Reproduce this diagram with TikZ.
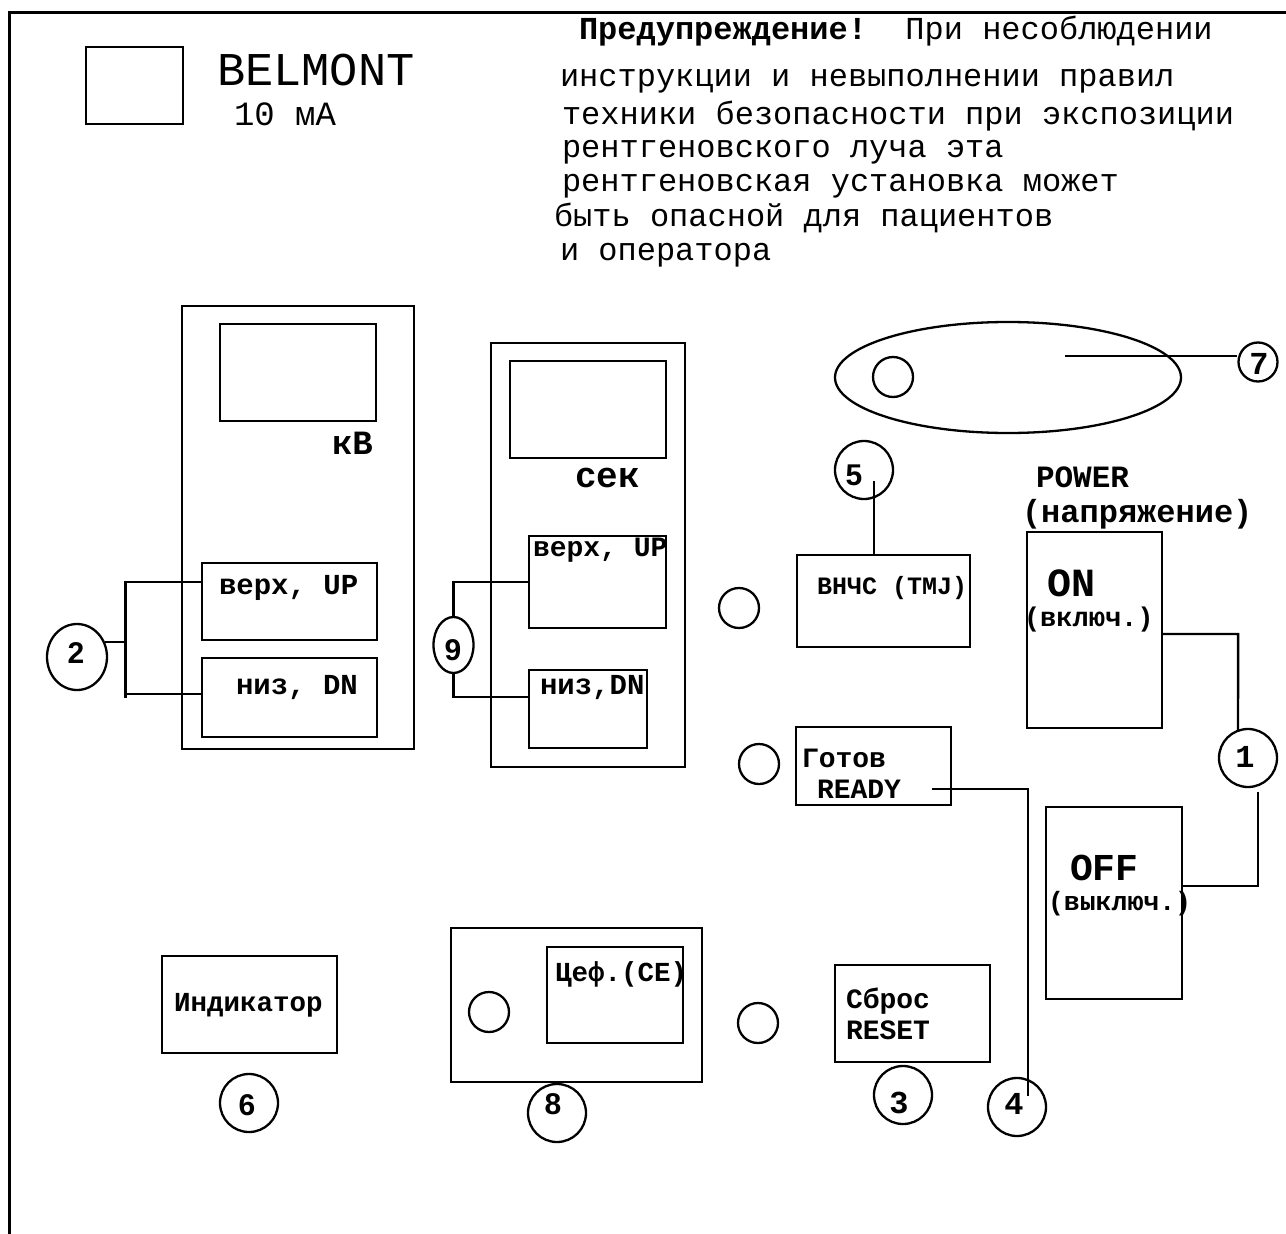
\documentclass[tikz,border=0pt]{standalone}
\usepackage{fontspec}
\setmainfont{Liberation Mono}
\newfontfamily\digitsans{Liberation Sans}
\usetikzlibrary{shapes.geometric,calc}
\newcommand\fsz[1]{\fontsize{#1}{#1}\selectfont}
\tikzset{
  boxn/.style={draw, line width=2.8pt, rectangle, inner sep=0pt, outer sep=0pt},
  knob/.style={draw, line width=2.3pt, circle, minimum size=40pt, inner sep=0pt, outer sep=0pt},
  numc/.style={draw, line width=2.3pt, circle, minimum size=58pt, inner sep=0pt, outer sep=0pt},
  numt/.style={inner sep=0pt, font=\digitsans\bfseries\fsz{30}},
  numtm/.style={inner sep=0pt, font=\bfseries\fsz{32}},
  txt/.style={inner sep=0pt, outer sep=0pt, anchor=base west},
  conn/.style={line width=2.3pt},
}
\begin{document}
\begin{tikzpicture}[x=1pt,y=-1pt]
\useasboundingbox (0,0) rectangle (1286,1234);
% outer frame (top and left edges)
\coordinate (ftl) at (9,12);
\coordinate (ftr) at (1286,12);
\coordinate (fbl) at (9,1234);
\draw[line width=3pt] (ftr) -- (ftl) -- (fbl);

% logo and title
\node[boxn, minimum width=97pt, minimum height=77pt] (logo) at (134.5,85.5) {};
\node[txt, font=\fsz{47}] (belmont) at (217,85) {BELMONT};
\node[txt, font=\fsz{34}] (ma) at (234,125) {10 мА};

% warning text
\node[txt, font=\fsz{32}] (w0) at (579,39) {\textbf{Предупреждение!}\ \ При несоблюдении};
\node[txt, font=\fsz{32}] (w1) at (560,86) {инструкции и невыполнении правил};
\node[txt, font=\fsz{32}] (w2) at (562,124) {техники безопасности при экспозиции};
\node[txt, font=\fsz{32}] (w3) at (562,157) {рентгеновского луча эта};
\node[txt, font=\fsz{32}] (w4) at (562,191) {рентгеновская установка может};
\node[txt, font=\fsz{32}] (w5) at (554,226) {быть опасной для пациентов};
\node[txt, font=\fsz{32}] (w6) at (560,260) {и оператора};

% kV panel
\node[boxn, minimum width=232pt, minimum height=443pt] (kvpanel) at (298,527.5) {};
\node[boxn, minimum width=156pt, minimum height=97pt] (kvdisp) at (298,372.5) {};
\node[txt, font=\bfseries\fsz{34}] (kvlab) at (332,454) {кВ};
\node[boxn, minimum width=175pt, minimum height=77pt] (kvup) at (289.5,601.5) {};
\node[txt, font=\bfseries\fsz{29}] (kvupt) at (219,594) {верх, UP};
\node[boxn, minimum width=175pt, minimum height=79pt] (kvdn) at (289.5,697.5) {};
\node[txt, font=\bfseries\fsz{29}] (kvdnt) at (236,694) {низ, DN};

% callout 2
\node[draw, line width=2.3pt, ellipse, minimum width=60pt, minimum height=66pt, inner sep=0pt] (c2) at (77,657) {};
\node[numt] (c2t) at (76,653) {2};
\coordinate (b2s) at (125.5,640);
\coordinate (b2t) at (125.5,582);
\coordinate (b2b) at (125.5,694);
\coordinate (b2e) at (125.5,698);
\draw[conn] (c2.28) -- (c2.28 -| b2s);
\draw[conn] (b2t -| kvup.west) -- (b2t) -- (b2e);
\draw[conn] (b2b) -- (b2b -| kvdn.west);

% sec panel
\node[boxn, minimum width=194pt, minimum height=424pt] (secpanel) at (588,555) {};
\node[boxn, minimum width=156pt, minimum height=97pt] (secdisp) at (588,409.5) {};
\node[txt, font=\bfseries\fsz{36}] (seclab) at (575,487) {сек};
\node[boxn, minimum width=137pt, minimum height=92pt] (secup) at (597.5,582) {};
\node[txt, font=\bfseries\fsz{28}] (secupt) at (533,556) {верх, UP};
\node[boxn, minimum width=118pt, minimum height=78pt] (secdn) at (588,709) {};
\node[txt, font=\bfseries\fsz{29}] (secdnt) at (540,694) {низ,DN};

% callout 9
\node[draw, line width=2.3pt, ellipse, minimum width=40pt, minimum height=56pt, inner sep=0pt] (c9) at (453.5,645) {};
\node[numt] (c9t) at (453,650) {9};
\coordinate (n9t) at (453.5,582);
\coordinate (n9b) at (453.5,697);
\draw[conn] (c9.north) -- (n9t) -- (n9t -| secup.west);
\draw[conn] (c9.south) -- (n9b) -- (n9b -| secdn.west);

% big ellipse with knob, callout 7
\node[draw, line width=2.3pt, ellipse, minimum width=346pt, minimum height=111pt, inner sep=0pt] (oval) at (1008,377.5) {};
\node[knob] (ovknob) at (893,377) {};
\node[draw, line width=2.3pt, circle, minimum size=39pt, inner sep=0pt] (c7) at (1258,362) {};
\node[numtm] (c7t) at (1259,364) {7};
\coordinate (l7) at (1065,356);
\draw[conn] (l7) -- (l7 -| c7.west);

% TMJ
\node[boxn, minimum width=173pt, minimum height=92pt] (tmj) at (883.5,601) {};
\node[txt, font=\bfseries\fsz{25}] (tmjt) at (817,594) {ВНЧС (TMJ)};
\node[knob] (tmjknob) at (739,608) {};
\node[numc] (c5) at (864,470) {};
\node[numt] (c5t) at (854,475) {5};
\coordinate (l5) at (874,481);
\draw[conn] (l5) -- (l5 |- tmj.north);

% POWER
\node[txt, font=\bfseries\fsz{31}] (powt) at (1036,487) {POWER};
\node[txt, font=\bfseries\fsz{32}] (powru) at (1022,522) {(напряжение)};
\node[boxn, minimum width=135pt, minimum height=196pt] (on) at (1094.5,630) {};
\node[txt, font=\bfseries\fsz{40}] (ont) at (1047,596) {ON};
\node[txt, font=\bfseries\fsz{27}] (onru) at (1024,626) {(включ.)};
\node[boxn, minimum width=136pt, minimum height=192pt] (off) at (1114,903) {};
\node[txt, font=\bfseries\fsz{38}] (offt) at (1070,880) {OFF};
\node[txt, font=\bfseries\fsz{26.5}] (offru) at (1048,910) {(выключ.)};
\node[numc] (c1) at (1248,758) {};
\node[numtm] (c1t) at (1245,757) {1};
\coordinate (k1) at (1238.1,634);
\draw[conn] (k1 -| on.east) -- (k1) -- (c1.110);
\coordinate (k1s) at (1258,792);
\coordinate (k1b) at (1258,886);
\draw[conn] (k1s) -- (k1b) -- (k1b -| off.east);

% READY
\node[knob] (rdknob) at (759,764) {};
\node[boxn, minimum width=155pt, minimum height=78pt] (ready) at (873.5,766) {};
\node[txt, font=\bfseries\fsz{28}] (readyru) at (802,767) {Готов};
\node[txt, font=\bfseries\fsz{28}] (readyen) at (817,798) {READY};
\node[numc] (c4) at (1017,1107) {};
\node[numtm] (c4t) at (1014,1104) {4};
\coordinate (k4a) at (932,789);
\coordinate (k4b) at (1028,789);
\coordinate (k4c) at (1028,1096);
\draw[conn] (k4a) -- (k4b) -- (k4c);

% bottom row
\node[boxn, minimum width=175pt, minimum height=97pt] (ind) at (249.5,1004.5) {};
\node[txt, font=\bfseries\fsz{27.5}] (indt) at (174,1011) {Индикатор};
\node[numc] (c6) at (249,1103) {};
\node[numt] (c6t) at (247,1105) {6};

\node[boxn, minimum width=251pt, minimum height=154pt] (ceout) at (576.5,1005) {};
\node[boxn, minimum width=136pt, minimum height=96pt] (cein) at (615,995) {};
\node[txt, font=\bfseries\fsz{27.5}] (cet) at (555,981) {Цеф.(CE)};
\node[knob] (ceknob) at (489,1012) {};
\node[numc] (c8) at (557,1113) {};
\node[numt] (c8t) at (553,1104) {8};

\node[knob] (rsknob) at (758,1023) {};
\node[boxn, minimum width=155pt, minimum height=97pt] (reset) at (912.5,1013.5) {};
\node[txt, font=\bfseries\fsz{28}] (resetru) at (846,1008) {Сброс};
\node[txt, font=\bfseries\fsz{28}] (reseten) at (846,1039) {RESET};
\node[numc] (c3) at (903,1095) {};
\node[numtm] (c3t) at (899,1103) {3};
\end{tikzpicture}
\end{document}
